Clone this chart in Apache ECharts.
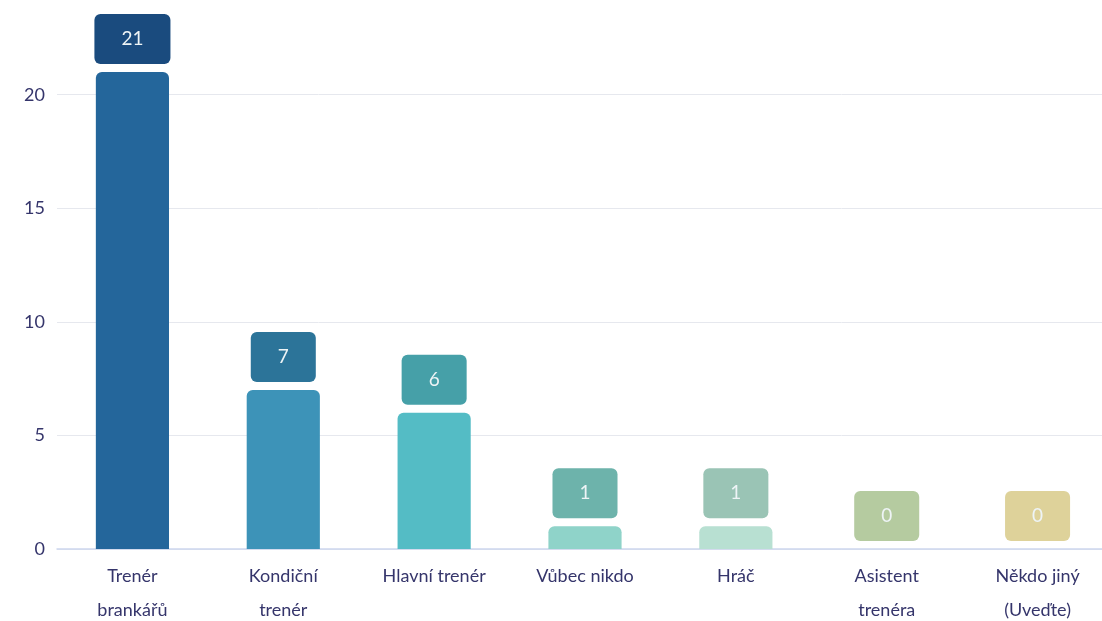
<!DOCTYPE html>
<html>
<head>
<meta charset="utf-8">
<script src="https://cdn.jsdelivr.net/npm/echarts@6/dist/echarts.min.js"></script>
<style>
  html, body { margin: 0; padding: 0; background: #fff; }
  #chart { width: 1102px; height: 621px; }
</style>
</head>
<body>
<div id="chart"></div>
<script>
// data
const categories = ['Trenér\nbrankářů', 'Kondiční\ntrenér', 'Hlavní trenér', 'Vůbec nikdo', 'Hráč', 'Asistent\ntrenéra', 'Někdo jiný\n(Uveďte)']
const values = [21, 7, 6, 1, 1, 0, 0]
const barColors = ['#24669b', '#3d93b8', '#54bcc5', '#8fd3c9', '#b8e0d2', '#c9dcb4', '#ece2b0']
const labelColors = ['#1a4b7e', '#2c7499', '#46a0a8', '#6db3ab', '#9ac4b5', '#b5cba0', '#ded29a']

const font = 'Lato, "Noto Sans", sans-serif'

const chart = echarts.init(document.getElementById('chart'))

chart.setOption({
    animation: false,
    grid: {
        left: 57,
        right: -11,
        top: 72,
        bottom: 72,
        outerBoundsMode: 'none',
        containLabel: false
    },
    xAxis: {
        type: 'category',
        data: categories,
        axisTick: {show: false},
        axisLine: {lineStyle: {color: '#cdd6ee', width: 1.5}},
        axisLabel: {
            color: '#35356b',
            fontFamily: font,
            fontSize: 18,
            lineHeight: 34,
            margin: 10,
            interval: 0
        }
    },
    yAxis: {
        type: 'value',
        min: 0,
        max: 21,
        interval: 5,
        axisLabel: {
            color: '#35356b',
            fontFamily: font,
            fontSize: 18,
            margin: 12,
            showMaxLabel: false
        },
        splitLine: {showMaxLine: false, lineStyle: {color: '#e6e8ee', width: 1}}
    },
    series: [{
        type: 'bar',
        barWidth: '48.5%',
        data: values.map((v, i) => ({
            value: v,
            itemStyle: {color: barColors[i], borderRadius: [6, 6, 0, 0]},
            label: {backgroundColor: labelColors[i]}
        })),
        label: {
            show: true,
            position: 'top',
            distance: 8,
            color: '#eef4f6',
            fontFamily: font,
            fontSize: 19,
            lineHeight: 20,
            padding: [15, 27],
            align: 'center',
            borderRadius: 6
        }
    }]
})
</script>
</body>
</html>
